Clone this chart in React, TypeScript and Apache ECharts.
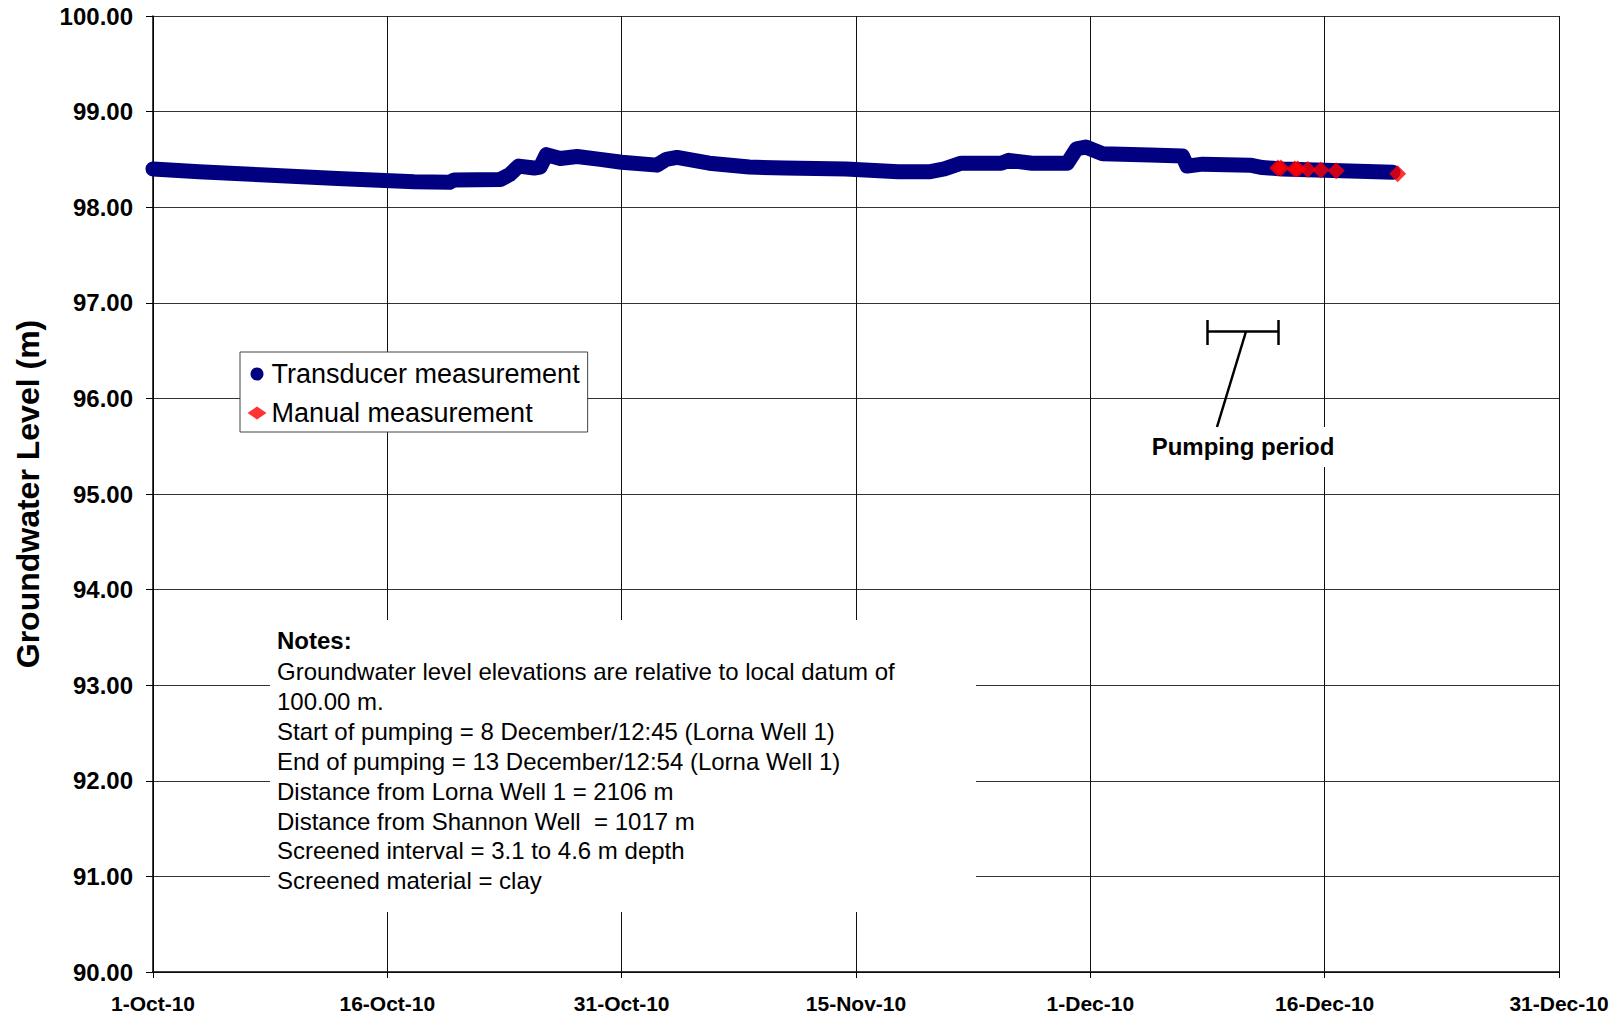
import React, { useEffect, useRef } from "react";
import * as echarts from "echarts";

// Days since 1-Oct-2010 00:00
const transducerDay = [0, 3, 7, 12, 17, 19.3, 19.6, 22.6, 23.2, 23.8, 24.8, 25.2, 25.6, 26.5, 27.6, 29.1, 30.5, 32.8, 33.4, 34.1, 36.2, 38.8, 41.1, 45.1, 48.5, 50.5, 51.5, 52.6, 55.2, 55.7, 57.2, 59.5, 60.1, 60.7, 61.8, 64.9, 67.0, 67.3, 68.3, 71.4, 72.2, 73.5, 76.8, 80.7];
const transducerLevel = [98.4, 98.37, 98.34, 98.3, 98.265, 98.26, 98.285, 98.29, 98.34, 98.43, 98.41, 98.42, 98.55, 98.51, 98.53, 98.5, 98.47, 98.44, 98.5, 98.52, 98.46, 98.42, 98.41, 98.4, 98.37, 98.37, 98.4, 98.46, 98.46, 98.49, 98.46, 98.46, 98.61, 98.63, 98.56, 98.545, 98.535, 98.43, 98.45, 98.44, 98.415, 98.4, 98.385, 98.365];

const manualDay = [73.2, 73.4, 74.3, 74.5, 75.15, 76.0, 77.0, 81.0];
const manualLevel = [98.41, 98.41, 98.4, 98.4, 98.395, 98.39, 98.38, 98.35];

const xTickLabels = ["1-Oct-10", "16-Oct-10", "31-Oct-10", "15-Nov-10", "1-Dec-10", "16-Dec-10", "31-Dec-10"];
const xInterval = 15.25;

const notesTitle = "Notes:";
const notesLines = [
  "Groundwater level elevations are relative to local datum of",
  "100.00 m.",
  "Start of pumping = 8 December/12:45 (Lorna Well 1)",
  "End of pumping = 13 December/12:54 (Lorna Well 1)",
  "Distance from Lorna Well 1 = 2106 m",
  "Distance from Shannon Well  = 1017 m",
  "Screened interval = 3.1 to 4.6 m depth",
  "Screened material = clay",
];

const FONT = "Arial, 'Liberation Sans', Helvetica, sans-serif";

export default function App() {
  const ref = useRef<HTMLDivElement>(null);
  useEffect(() => {
    if (!ref.current) return;
    const chart = echarts.init(ref.current, undefined, { renderer: "svg" });
    const tData = transducerDay.map((d, i) => [d, transducerLevel[i]]);
    const mData = manualDay.map((d, i) => [d, manualLevel[i]]);

    const noteTexts: any[] = notesLines.map((t, i) => ({
      type: "text",
      x: 277,
      y: 671.5 + i * 29.9,
      z: 101,
      style: { text: t, font: `24px ${FONT}`, fill: "#000", textAlign: "left", textVerticalAlign: "middle" },
    }));

    chart.setOption({
      animation: false,
      backgroundColor: "#fff",
      textStyle: { fontFamily: FONT },
      grid: { left: 153, right: 60, top: 16, bottom: 45, show: false },
      legend: {
        orient: "vertical",
        left: 240,
        top: 352,
        backgroundColor: "#fff",
        borderColor: "#444",
        borderWidth: 1,
        padding: [7, 8, 4, 7.5],
        itemWidth: 19,
        itemHeight: 13,
        itemGap: 9,
        textStyle: { fontSize: 27, color: "#000", lineHeight: 30, fontFamily: FONT },
        data: [
          { name: "Transducer measurement", icon: "circle" },
          { name: "Manual measurement", icon: "diamond" },
        ],
        z: 60,
      },
      xAxis: {
        type: "value",
        min: 0,
        max: xInterval * 6,
        interval: xInterval,
        axisLine: { show: true, onZero: false, lineStyle: { color: "#000", width: 1.5 } },
        axisTick: { show: true, length: 6, lineStyle: { color: "#000" } },
        axisLabel: {
          show: true,
          margin: 21,
          fontSize: 21,
          fontWeight: "bold",
          color: "#000",
          fontFamily: FONT,
          showMinLabel: true,
          showMaxLabel: true,
          hideOverlap: false,
          formatter: (v: number) => xTickLabels[Math.round(v / xInterval)] ?? "",
        },
        splitLine: { show: true, lineStyle: { color: "#111", width: 1 } },
      },
      yAxis: {
        type: "value",
        min: 90,
        max: 100,
        interval: 1,
        axisLine: { show: true, onZero: false, lineStyle: { color: "#000", width: 1.5 } },
        axisTick: { show: true, length: 7, lineStyle: { color: "#000" } },
        axisLabel: {
          margin: 20,
          fontSize: 24,
          fontWeight: "bold",
          color: "#000",
          fontFamily: FONT,
          formatter: (v: number) => v.toFixed(2),
        },
        splitLine: { show: true, lineStyle: { color: "#333", width: 1 } },
      },
      series: [
        {
          name: "Transducer measurement",
          type: "line",
          data: tData,
          showSymbol: false,
          symbol: "circle",
          color: "#000080",
          itemStyle: { color: "#000080" },
          lineStyle: { color: "#000080", width: 15, cap: "round", join: "round" },
          z: 10,
        },
        {
          name: "Manual measurement",
          type: "scatter",
          data: mData,
          symbol: "diamond",
          symbolSize: 17,
          color: "#ff0000",
          itemStyle: { color: "#ff0000" },
          z: 11,
        },
      ],
      graphic: [
        {
          type: "text",
          x: 28,
          y: 494,
          rotation: Math.PI / 2,
          z: 100,
          style: {
            text: "Groundwater Level (m)",
            font: `bold 32px ${FONT}`,
            fill: "#000",
            textAlign: "center",
            textVerticalAlign: "middle",
          },
        },
        {
          type: "rect",
          shape: { x: 270, y: 620, width: 706, height: 292 },
          style: { fill: "#fff" },
          z: 100,
        },
        {
          type: "text",
          x: 277,
          y: 640,
          z: 101,
          style: { text: notesTitle, font: `bold 24px ${FONT}`, fill: "#000", textAlign: "left", textVerticalAlign: "middle" },
        },
        ...noteTexts,
        {
          type: "rect",
          shape: { x: 1140, y: 427, width: 205, height: 40 },
          style: { fill: "#fff" },
          z: 100,
        },
        {
          type: "text",
          x: 1243,
          y: 446,
          z: 101,
          style: { text: "Pumping period", font: `bold 24px ${FONT}`, fill: "#000", textAlign: "center", textVerticalAlign: "middle" },
        },
        {
          type: "line",
          shape: { x1: 1207, y1: 331.5, x2: 1278.5, y2: 331.5 },
          style: { stroke: "#000", lineWidth: 2.5 },
          z: 101,
        },
        {
          type: "line",
          shape: { x1: 1207.5, y1: 320, x2: 1207.5, y2: 345 },
          style: { stroke: "#000", lineWidth: 2.5 },
          z: 101,
        },
        {
          type: "line",
          shape: { x1: 1278.5, y1: 320, x2: 1278.5, y2: 345 },
          style: { stroke: "#000", lineWidth: 2.5 },
          z: 101,
        },
        {
          type: "line",
          shape: { x1: 1246, y1: 331.5, x2: 1217, y2: 427 },
          style: { stroke: "#000", lineWidth: 2.5 },
          z: 101,
        },
      ],
    });
    return () => chart.dispose();
  }, []);
  return <div ref={ref} style={{ position: "fixed", left: 0, top: 0, width: 1619, height: 1017 }} />;
}
